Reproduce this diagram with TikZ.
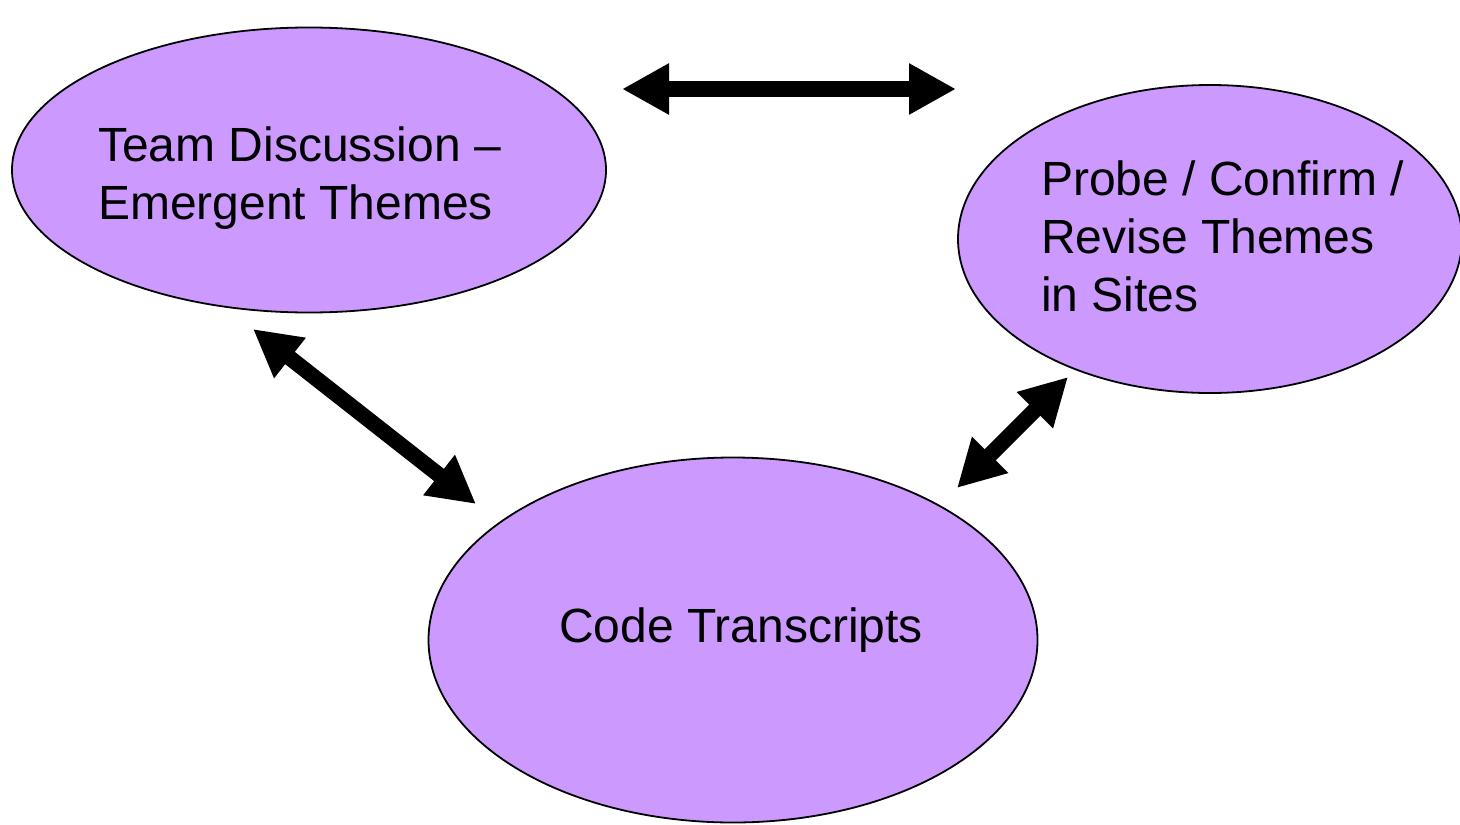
\documentclass[tikz,border=0pt]{standalone}
\usepackage{fontspec}
\setmainfont{Liberation Sans}
\usetikzlibrary{shapes.geometric,arrows.meta}
\definecolor{lilac}{HTML}{CC99FF}
\tikzset{
  theme/.style={shape=ellipse,draw=black,fill=lilac,line width=0.9pt,inner sep=0pt},
  themetext/.style={align=left,inner sep=0pt,font=\fontsize{24}{29}\selectfont},
  link/.style={line width=7.8pt,
    {Triangle[length=23.5pt,width=24pt]}-{Triangle[length=23.5pt,width=24pt]}}
}
\begin{document}
\begin{tikzpicture}[x=0.5pt,y=-0.5pt]
            \useasboundingbox (0,0) rectangle (1460,824);
            \node[theme,minimum width=297pt,minimum height=142.5pt] (T) at (309,170) {};
            \node[theme,minimum width=252pt,minimum height=154pt] (P) at (1210,239) {};
            \node[theme,minimum width=304.5pt,minimum height=182.5pt] (C) at (733,640) {};

            \node[themetext] (Tt) at (299.5,178) {Team Discussion --\\Emergent Themes};
            \node[themetext] (Pt) at (1222.5,236) {Probe / Confirm /\\Revise Themes\\in Sites};
            \node[themetext] (Ct) at (741,630) {Code Transcripts};

            \coordinate (TP1) at (622,89);
            \coordinate (TP2) at (956,89);
            \coordinate (TC1) at (253,329);
            \coordinate (TC2) at (476,504);
            \coordinate (PC1) at (1068,377);
            \coordinate (PC2) at (957,488);

            \path[link] (TP1) edge (TP2);
            \path[link] (TC1) edge (TC2);
            \path[link] (PC1) edge (PC2);
\end{tikzpicture}
\end{document}
